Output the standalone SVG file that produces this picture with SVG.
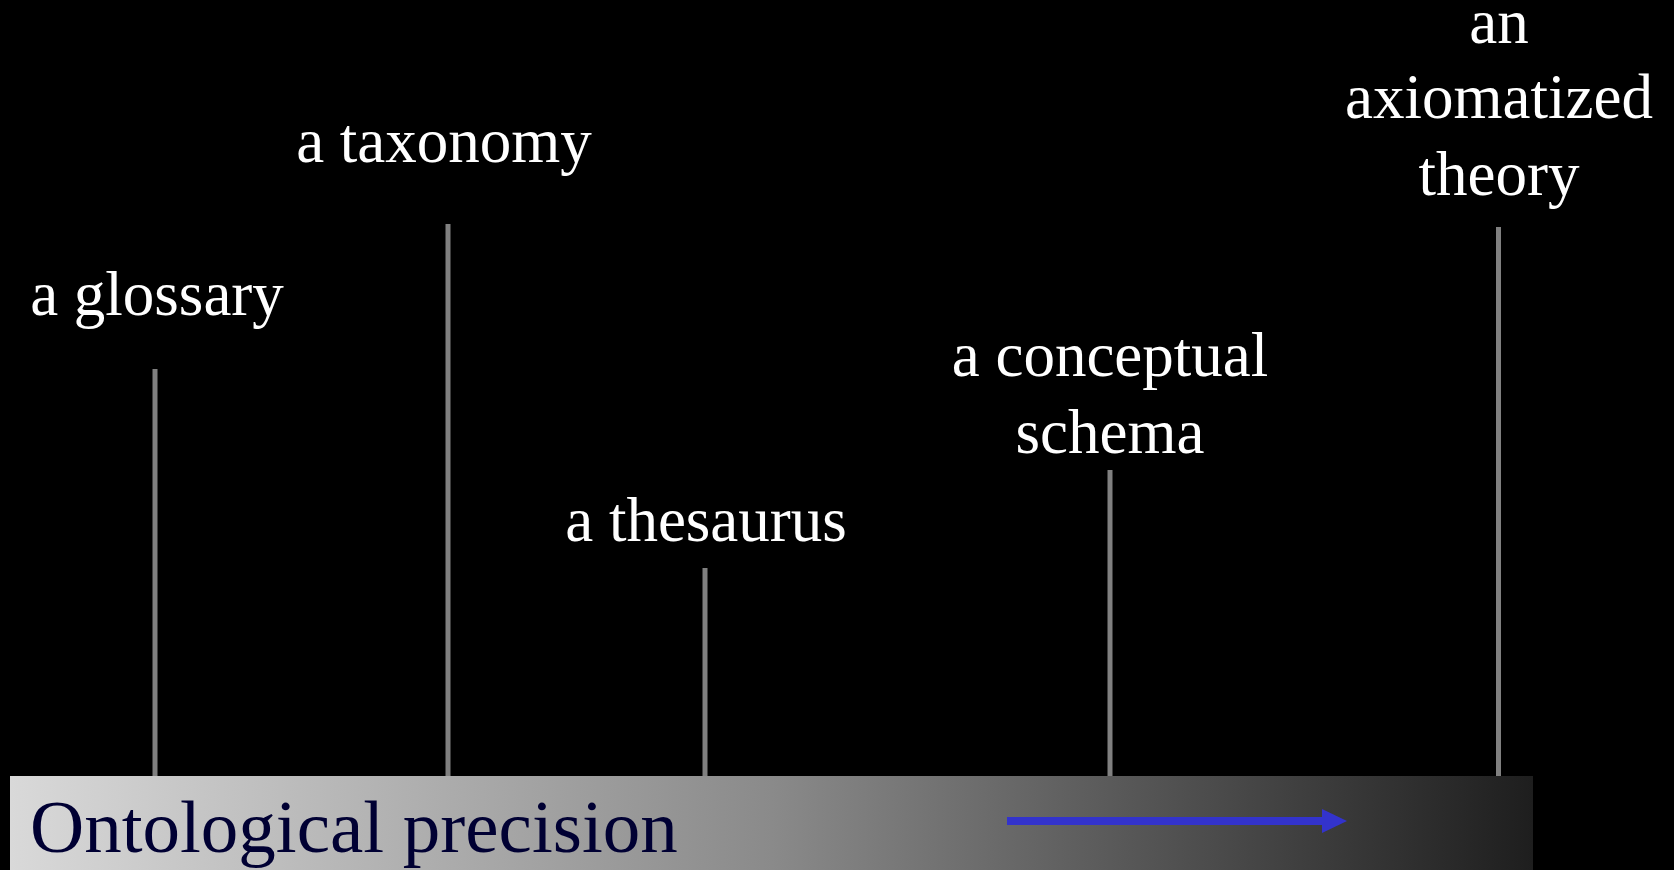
<svg xmlns="http://www.w3.org/2000/svg" width="1674" height="870" viewBox="0 0 1674 870">
<defs>
<linearGradient id="band" x1="0" y1="0" x2="1" y2="0">
<stop offset="0" stop-color="#d9d9d9"/>
<stop offset="0.5" stop-color="#8a8a8a"/>
<stop offset="1" stop-color="#1e1e1e"/>
</linearGradient>
<marker id="ah" viewBox="0 0 25 24" refX="1" refY="12" markerWidth="25" markerHeight="24" markerUnits="userSpaceOnUse" orient="auto">
<path d="M0,0 L25,12 L0,24 Z" fill="#3333cc"/>
</marker>
<style>
.lbl{font-family:"Liberation Serif","Times New Roman",serif;font-size:63px;fill:#ffffff;text-anchor:middle}
.stem{stroke:#808080;stroke-width:5;fill:none}
</style>
</defs>
<rect x="0" y="0" width="1674" height="870" fill="#000000"/>
<g id="connectors">
<line class="stem" x1="155" y1="369" x2="155" y2="778"/>
<line class="stem" x1="448" y1="224" x2="448" y2="778"/>
<line class="stem" x1="705" y1="568" x2="705" y2="778"/>
<line class="stem" x1="1110" y1="470" x2="1110" y2="778"/>
<line class="stem" x1="1498.5" y1="227" x2="1498.5" y2="779"/>
</g>
<g id="axis">
<rect x="10" y="776" width="1523" height="94" fill="url(#band)"/>
<text x="30" y="852" font-family="Liberation Serif, Times New Roman, serif" font-size="75" fill="#000033">Ontological precision</text>
<line x1="1007" y1="821" x2="1323" y2="821" stroke="#3333cc" stroke-width="8" marker-end="url(#ah)"/>
</g>
<g id="glossary"><text class="lbl" x="157" y="315">a glossary</text></g>
<g id="taxonomy"><text class="lbl" x="444" y="162">a taxonomy</text></g>
<g id="thesaurus"><text class="lbl" x="706" y="541">a thesaurus</text></g>
<g id="schema"><text class="lbl" x="1110" y="376">a conceptual</text><text class="lbl" x="1110" y="453">schema</text></g>
<g id="theory"><text class="lbl" x="1499" y="43">an</text><text class="lbl" x="1499" y="118">axiomatized</text><text class="lbl" x="1499" y="195">theory</text></g>
</svg>
